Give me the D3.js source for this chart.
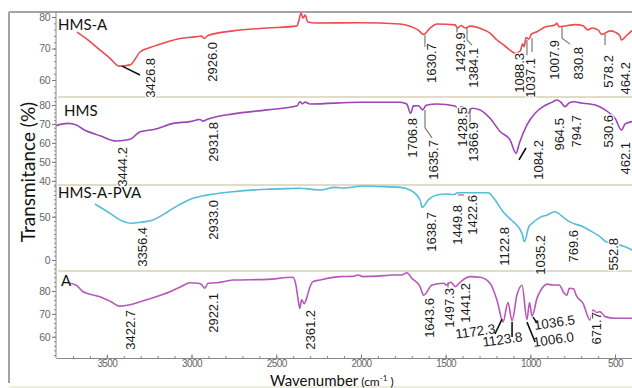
<!DOCTYPE html>
<html>
<head>
<meta charset="utf-8">
<script src="https://cdn.jsdelivr.net/npm/d3@7"></script>
<style>
  body { margin: 0; background: #fff; }
  text { font-family: "Liberation Sans", Arial, sans-serif; }
</style>
</head>
<body>
<svg id="chart" width="632" height="388"></svg>
<script>
// spectra, [wavenumber, transmittance]
var hmsA = [[3676,75.2],[3599,72.2],[3540,69.5],[3481,66.9],[3427,64.4],[3363,64.8],[3304,68.9],[3245,70.3],
  [3145,72.1],[3068,73.2],[2979,73.7],[2940,74],[2926,73.2],[2903,74.1],[2755,75.6],[2554,76.5],[2377,77.2],
  [2366,79],[2354,81.3],[2342,79.7],[2330,80.6],[2313,78.4],[2271,78.1],[2005,78.2],[1769,77.8],[1710,77.1],
  [1663,75.9],[1631,74.5],[1592,76.5],[1551,77.8],[1445,77.5],[1430,76.5],[1409,77.3],[1384,76.5],[1356,77.1],
  [1296,76.4],[1238,74.9],[1197,72.7],[1150,70.8],[1120,69.5],[1088,68.5],[1060,69.2],[1045,71.5],[1037,70.6],
  [1025,73.5],[1008,73.0],[995,74.5],[961,75.3],[913,76.8],[855,77.5],[843,78],[831,76.9],[778,77.3],[736,77.6],
  [689,77.2],[660,75.9],[636,76.5],[601,75.9],[578,74.5],[530,75.6],[500,75.2],[471,74],[464,72.7],[429,74.3],[400,75.7]];

var hms = [[3800,69.1],[3730,70.3],[3680,69.5],[3640,67.2],[3540,63.8],[3444,61.0],[3363,61.9],[3304,65.9],
  [3216,67.2],[3109,70.3],[3009,71.2],[2950,72.3],[2932,71.5],[2910,72.3],[2755,75.3],[2554,77.4],[2377,79.6],
  [2360,81.7],[2345,80.6],[2330,81.5],[2300,80.5],[2005,81.4],[1769,81.4],[1730,80.5],[1707,75.6],[1690,79.5],
  [1660,79.6],[1636,77.4],[1615,79.8],[1550,80.5],[1445,79.5],[1428,78.3],[1400,79.2],[1367,75.6],[1345,78.3],
  [1300,77.5],[1238,73],[1179,66],[1120,61.6],[1084,54.5],[1065,59.8],[1020,69.5],[972,75.6],[925,79.1],
  [870,81.5],[843,82.6],[820,81.5],[795,79.1],[770,81.2],[740,81.7],[700,81.0],[648,80.5],[600,79.5],
  [559,77.4],[530,75.5],[500,73],[462,66.8],[440,70],[400,71.2]];

var hmsAPva = [[3570,64.6],[3481,53.8],[3420,46],[3356,42.3],[3300,43.5],[3227,46.1],[3170,52],[3109,59.6],
  [3050,66],[2991,71.1],[2933,74],[2891,75.5],[2755,78.8],[2554,81.6],[2400,82.5],[2360,82.7],[2290,81.5],
  [2242,80.7],[2153,83.8],[2100,83.0],[1988,85.3],[1900,84.8],[1769,83.8],[1710,80.7],[1651,69.2],[1639,60.8],
  [1600,70],[1551,75],[1500,76.1],[1450,75.5],[1430,77.5],[1250,77.5],[1208,69.2],[1161,55.7],[1123,48],
  [1100,44],[1049,30.7],[1035,21],[1010,38],[990,42.3],[943,49.2],[900,52],[855,55.7],[810,50],[770,44.2],
  [689,38.4],[640,33],[589,26.9],[553,21],[512,19],[441,15.3],[400,11.5]];

var sampleA = [[3717,83.4],[3680,82.5],[3640,79.7],[3540,77.5],[3480,75.5],[3423,73.4],[3363,74],[3304,75.3],
  [3210,77.5],[3127,79.7],[3060,82],[3009,83.6],[2960,83.4],[2940,82.8],[2922,81.2],[2903,83.4],[2850,83.6],
  [2755,84.8],[2554,85.1],[2401,86],[2385,83],[2370,76],[2361,72.4],[2350,76.1],[2335,74.5],[2320,77],
  [2300,82],[2283,84.1],[2242,84.8],[2123,86.3],[2050,86.4],[2017,87],[1990,86.3],[1900,86.5],[1811,87],
  [1760,87],[1728,88],[1700,85.6],[1651,81.9],[1630,78.2],[1580,82.6],[1510,83.4],[1497,82.6],[1470,83.8],
  [1441,81.9],[1420,83.5],[1356,86.3],[1296,86],[1238,83.4],[1197,76],[1161,66.5],[1132,75],[1108,67],
  [1080,78],[1049,82.5],[1020,67.5],[1005,75],[990,69],[960,77],[943,79.7],[900,83],[867,82.6],[830,82.6],
  [800,79],[784,78.2],[770,81.2],[745,81],[730,78.2],[689,74.6],[648,67.3],[630,71.7],[610,70.5],[590,71],
  [559,68.8],[500,68.1],[400,68.1]];

// peak labels and where they sit, [wavenumber, value at top of text]
var hmsAPeaks = ["3426.8","2926.0","1630.7","1429.9","1384.1","1088.3","1037.1","1007.9","830.8","578.2","464.2"];
var hmsAPeakAt = [[3245,67.0],[2879,72.1],[1586,71.7],[1415,75.2],[1338,70.2],[1067,68.6],[1002,67.0],[860,72.7],[719,70.5],[542,67.9],[441,65.7]];
var hmsPeaks = ["3444.2","2931.8","1706.8","1635.7","1428.5","1366.9","1084.2","964.5","794.7","530.6","462.1"];
var hmsPeakAt = [[3410,57.8],[2873,71.0],[1699,73.1],[1575,61.5],[1403,78.9],[1338,71.0],[955,61.5],[831,73.1],[730,74.7],[542,74.7],[441,60.5]];
var pvaPeaks = ["3356.4","2933.0","1638.7","1449.8","1422.6","1122.8","1035.2","769.6","552.8"];
var pvaPeakAt = [[3292,38.1],[2873,69.2],[1586,55.4],[1433,63.4],[1344,75.0],[1155,38.1],[943,28.8],[748,34.6],[512,25.4]];
var aPeaks = ["3422.7","2922.1","2361.2","1643.6","1497.3","1441.2","671.7"];
var aPeakAt = [[3363,71.7],[2873,79.1],[2301,71.7],[1598,76.9],[1480,81.3],[1386,83.5],[612,70.8]];
var aTilted = ["1172.3","1123.8","1006.0","1036.5"];
var aTiltedAt = [[1321,60.3],[1161,56.8],[860,56.8],[854,64.2]];

// leader lines, lists of [wavenumber, value]
var hmsALeaders = [
  {k:1, pts:[[3410,64.4],[3304,61.6]]},
  {pts:[[1622,74.3],[1622,70.5]]},
  {pts:[[1433,76.8],[1433,74.6]]},
  {pts:[[1374,76.5],[1374,72.7],[1344,71.1]]},
  {pts:[[1020,72.7],[1020,67.9]]},
  {pts:[[990,73.3],[990,68.9]]},
  {pts:[[813,76.8],[813,73.3],[766,71.4]]},
  {pts:[[559,74.6],[559,71.1]]}];
var hmsLeaders = [
  {pts:[[1622,77.4],[1622,67.9],[1580,62.6]]},
  {pts:[[1421,77.8],[1386,77.8]]},
  {pts:[[1356,78.4],[1356,70.5]]},
  {k:1, pts:[[1067,51.0],[1026,57.3]]}];
var pvaLeaders = [
  {pts:[[1427,75.0],[1392,75.0]]}];
var aLeaders = [
  {pts:[[1486,83.8],[1486,81.3]]},
  {k:1, pts:[[1209,61.2],[1167,67.7]]},
  {k:1, pts:[[1108,66.4],[1108,59.9]]},
  {k:1, pts:[[1020,66.4],[972,57.7]]},
  {k:1, pts:[[984,68.6],[961,66.0]]}];

var xTicks = [3500,3000,2500,2000,1500,1000,500];

var svg = d3.select("#chart");

var x = d3.scaleLinear().domain([3800, 400]).range([56, 632]);

var panels = [
  {name:"HMS-A", data:hmsA, peaks:hmsAPeaks, at:hmsAPeakAt, leaders:hmsALeaders,
   top:12, bottom:97, domain:[54.6,81.6], ticks:[60,70,80], minor:2, color:"#ec4b50", lx:58, ly:30},
  {name:"HMS", data:hms, peaks:hmsPeaks, at:hmsPeakAt, leaders:hmsLeaders,
   top:97, bottom:185, domain:[37.8,84.2], ticks:[40,50,60,70,80], minor:2, color:"#9c45b4", lx:64, ly:116},
  {name:"HMS-A-PVA", data:hmsAPva, peaks:pvaPeaks, at:pvaPeakAt, leaders:pvaLeaders,
   top:185, bottom:271, domain:[-12.7,86.5], ticks:[0,50], minor:5, color:"#55bdd8", lx:58, ly:198},
  {name:"A", data:sampleA, peaks:aPeaks, at:aPeakAt, leaders:aLeaders, tilted:aTilted, tiltedAt:aTiltedAt,
   top:271, bottom:358, domain:[50.7,88.75], ticks:[60,70,80], minor:2, color:"#b857b9", lx:61, ly:286}
];

// outer frame
svg.append("line").attr("x1", 9).attr("x2", 632).attr("y1", 12).attr("y2", 12)
  .attr("stroke", "#a3a3a3").attr("stroke-width", 2);
svg.append("line").attr("x1", 9).attr("x2", 9).attr("y1", 12).attr("y2", 383)
  .attr("stroke", "#a3a3a3").attr("stroke-width", 2);
svg.append("line").attr("x1", 9).attr("x2", 632).attr("y1", 387).attr("y2", 387)
  .attr("stroke", "#eeeedc").attr("stroke-width", 2);

// panel separators
panels.slice(1).forEach(function(p) {
  svg.append("line").attr("x1", 58).attr("x2", 632).attr("y1", p.top).attr("y2", p.top)
    .attr("stroke", "#e0dcc8").attr("stroke-width", 2);
});

panels.forEach(function(p) {
  var y = d3.scaleLinear().domain(p.domain).range([p.bottom, p.top]);
  var g = svg.append("g");

  // y axis
  var minorVals = d3.range(Math.ceil(p.domain[0] / p.minor) * p.minor, p.domain[1], p.minor);
  var ax = g.append("g").attr("transform", "translate(56,0)")
    .call(d3.axisLeft(y).tickValues(minorVals).tickSize(2).tickFormat(""));
  ax.select(".domain").remove();
  ax.selectAll("line").attr("stroke", "#888");
  var ay = g.append("g").attr("transform", "translate(56,0)")
    .call(d3.axisLeft(y).tickValues(p.ticks).tickSize(4).tickPadding(2));
  ay.select(".domain").remove();
  ay.selectAll("line").attr("stroke", "#777");
  ay.selectAll("text").attr("fill", "#666").style("font-size", "10.5px")
    .attr("letter-spacing", "-0.5");

  // spectrum
  var line = d3.line().x(function(d) { return x(d[0]); }).y(function(d) { return y(d[1]); })
    .curve(d3.curveMonotoneX);
  g.append("path").datum(p.data).attr("d", line)
    .attr("fill", "none").attr("stroke", p.color).attr("stroke-width", 1.6);

  // leader lines
  var lead = d3.line().x(function(d) { return x(d[0]); }).y(function(d) { return y(d[1]); });
  g.selectAll("path.lead").data(p.leaders).join("path").attr("class", "lead")
    .attr("d", function(d) { return lead(d.pts); })
    .attr("fill", "none")
    .attr("stroke", function(d) { return d.k ? "#111" : "#7a7a7a"; })
    .attr("stroke-width", function(d) { return d.k ? 1.6 : 1.2; });

  // peak labels
  g.selectAll("text.peak").data(p.peaks).join("text").attr("class", "peak")
    .attr("transform", function(d, i) {
      return "translate(" + x(p.at[i][0]) + "," + y(p.at[i][1]) + ") rotate(-90)";
    })
    .attr("text-anchor", "end").attr("dy", "0.36em")
    .style("font-size", "13px").attr("fill", "#1a1a1a")
    .attr("stroke", "#fff").attr("stroke-width", 2.5).attr("paint-order", "stroke")
    .text(function(d) { return d; });

  if (p.tilted) {
    g.selectAll("text.tilt").data(p.tilted).join("text").attr("class", "tilt")
      .attr("transform", function(d, i) {
        return "translate(" + x(p.tiltedAt[i][0]) + "," + y(p.tiltedAt[i][1]) + ") rotate(-8)";
      })
      .attr("text-anchor", "middle")
      .style("font-size", "13.5px").attr("fill", "#1a1a1a")
      .text(function(d) { return d; });
  }

  // sample name
  g.append("text").attr("x", p.lx).attr("y", p.ly)
    .style("font-family", "Lato, 'Open Sans', sans-serif").style("font-size", "15px")
    .attr("fill", "#111").text(p.name);
});

// y axis line
svg.append("line").attr("x1", 56).attr("x2", 56).attr("y1", 12).attr("y2", 358)
  .attr("stroke", "#8a8a8a").attr("stroke-width", 1);

// x axis
var gx = svg.append("g").attr("transform", "translate(0,358)");
var xm = gx.append("g").call(d3.axisBottom(x).tickValues(d3.range(3700, 400, -100)).tickSize(-2).tickFormat(""));
xm.select(".domain").remove();
xm.selectAll("line").attr("stroke", "#888");
var xa = gx.append("g").call(d3.axisBottom(x).tickValues(xTicks).tickFormat(d3.format("d"))
  .tickSizeInner(-3.5).tickSizeOuter(0).tickPadding(2));
xa.select(".domain").attr("stroke", "#888");
xa.selectAll("line").attr("stroke", "#777");
xa.selectAll("text").attr("fill", "#666").style("font-size", "10px").attr("letter-spacing", "-0.6");

// axis titles
svg.append("text").attr("transform", "translate(35,172) rotate(-90)")
  .attr("text-anchor", "middle")
  .style("font-family", "Lato, 'Open Sans', sans-serif").style("font-size", "19px").attr("fill", "#111")
  .text("Transmitance (%)");

var xt = svg.append("text").attr("x", 270).attr("y", 386)
  .style("font-family", "Lato, 'Open Sans', sans-serif").attr("fill", "#111");
xt.append("tspan").style("font-size", "15px").text("Wavenumber");
xt.append("tspan").style("font-size", "12px").attr("dx", 3).text("(cm");
xt.append("tspan").style("font-size", "8px").attr("dy", -5).text("-1");
xt.append("tspan").style("font-size", "12px").attr("dy", 5).text(" )");
</script>
</body>
</html>
